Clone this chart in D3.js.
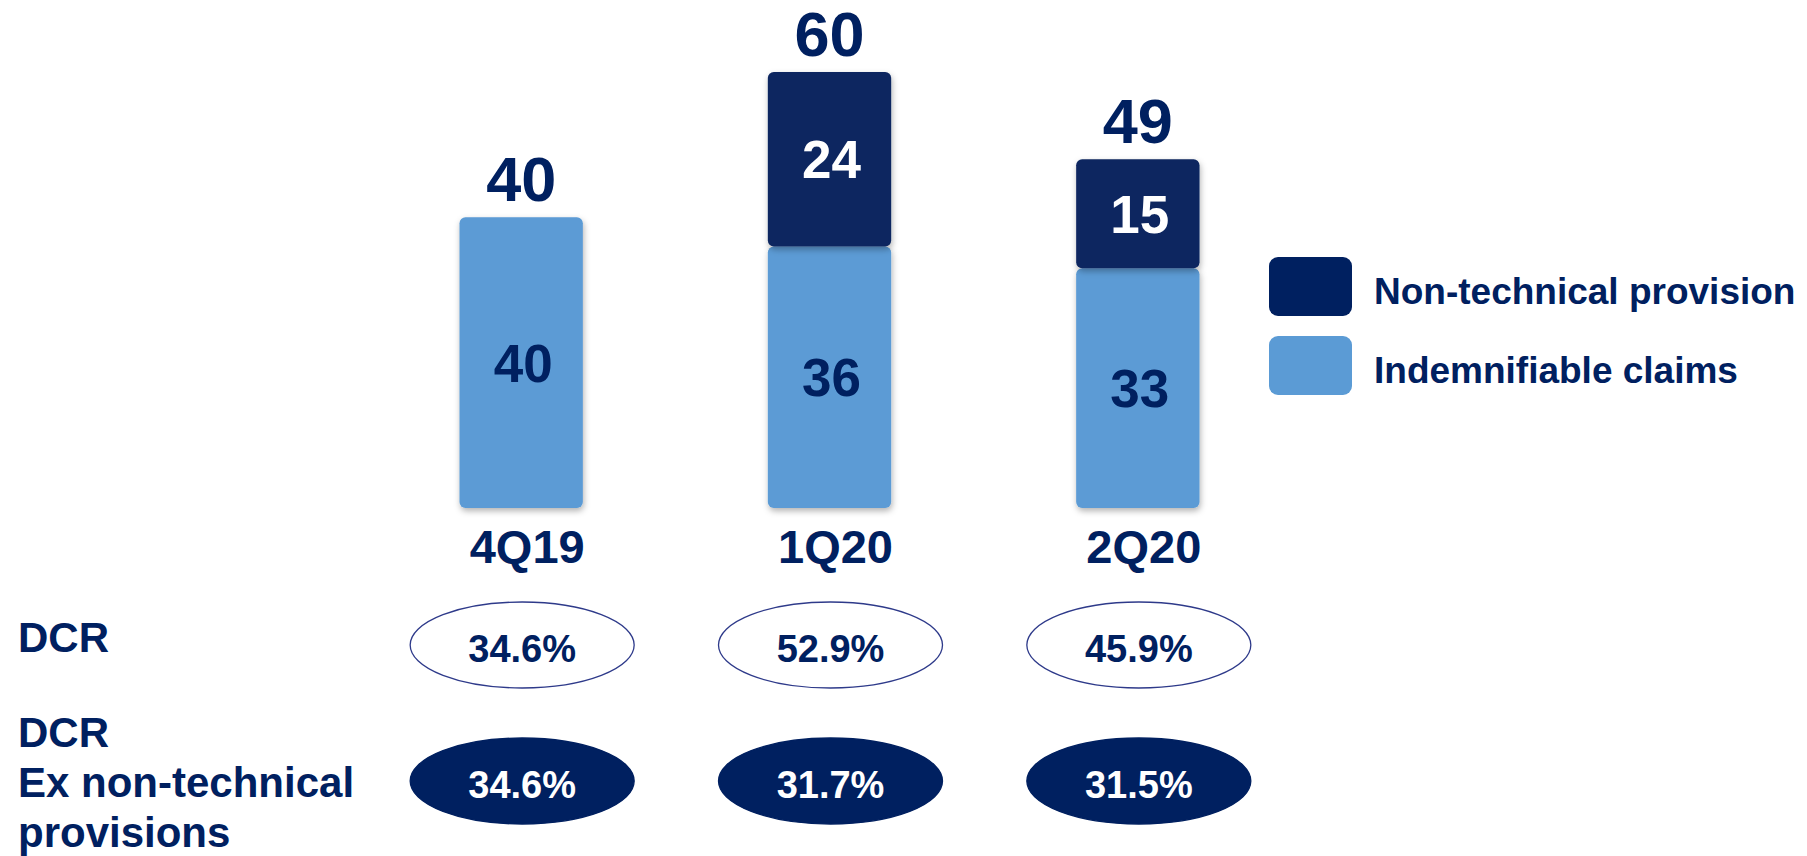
<!DOCTYPE html>
<html>
<head>
<meta charset="utf-8">
<script src="https://cdn.jsdelivr.net/npm/d3@7"></script>
<style>
  html, body { margin: 0; padding: 0; background: #fff; }
  svg { display: block; font-family: "Liberation Sans", Arial, sans-serif; font-weight: bold; }
</style>
</head>
<body>
<div id="chart"></div>
<script>
// chart values
var quarters = ["4Q19", "1Q20", "2Q20"];
var indemnifiable = [40, 36, 33];
var nonTechnical = [0, 24, 15];
var totals = [40, 60, 49];
var dcr = [34.6, 52.9, 45.9];
var dcrExNonTech = [34.6, 31.7, 31.5];
var legendLabels = ["Non-technical provision", "Indemnifiable claims"];
var rowLabels = [["DCR"], ["DCR", "Ex non-technical", "provisions"]];

var width = 1807, height = 856;
var navy = "#002060", barNavy = "#0a2660", lightBlue = "#5b9bd5";

var svg = d3.select("#chart").append("svg")
  .attr("width", width)
  .attr("height", height);

// soft shadow under the bars
var defs = svg.append("defs");
defs.append("filter")
  .attr("id", "shadow")
  .attr("x", "-20%").attr("y", "-20%")
  .attr("width", "140%").attr("height", "140%")
  .append("feDropShadow")
  .attr("dx", 1).attr("dy", 3)
  .attr("stdDeviation", 3)
  .attr("flood-color", "#000")
  .attr("flood-opacity", 0.3);

// scales
var x = d3.scaleBand()
  .domain(quarters)
  .range([367, 1292])
  .paddingInner(0.6)
  .paddingOuter(0.3);

var y = d3.scaleLinear()
  .domain([0, 60])
  .range([508, 72]);

var color = d3.scaleOrdinal()
  .domain(["indemnifiable", "nonTechnical"])
  .range([lightBlue, barNavy]);

// stack the two series
var rows = quarters.map(function (q, i) {
  return { quarter: q, indemnifiable: indemnifiable[i], nonTechnical: nonTechnical[i] };
});
var series = d3.stack().keys(["indemnifiable", "nonTechnical"])(rows);

var layers = svg.selectAll(".layer")
  .data(series)
  .enter().append("g")
  .attr("class", "layer");

layers.selectAll("rect")
  .data(function (s) {
    return s.filter(function (d) { return d[1] - d[0] > 0; })
      .map(function (d) { return { key: s.key, d: d }; });
  })
  .enter().append("rect")
  .attr("x", function (e) { return x(e.d.data.quarter); })
  .attr("y", function (e) { return y(e.d[1]); })
  .attr("width", x.bandwidth())
  .attr("height", function (e) { return y(e.d[0]) - y(e.d[1]); })
  .attr("rx", 6)
  .attr("fill", function (e) { return color(e.key); })
  .attr("filter", "url(#shadow)");

// segment values
layers.selectAll("text")
  .data(function (s) {
    return s.filter(function (d) { return d[1] - d[0] > 0; })
      .map(function (d) { return { key: s.key, d: d }; });
  })
  .enter().append("text")
  .attr("x", function (e) { return x(e.d.data.quarter) + x.bandwidth() / 2 + 2; })
  .attr("y", function (e) { return (y(e.d[0]) + y(e.d[1])) / 2; })
  .attr("dy", "0.36em")
  .attr("text-anchor", "middle")
  .attr("font-size", 53)
  .attr("fill", function (e) { return e.key === "nonTechnical" ? "#fff" : navy; })
  .text(function (e) { return e.d.data[e.key]; });

// totals above bars
var stackTop = quarters.map(function (q, i) { return indemnifiable[i] + nonTechnical[i]; });
svg.selectAll(".total")
  .data(quarters)
  .enter().append("text")
  .attr("class", "total")
  .attr("x", function (q) { return x(q) + x.bandwidth() / 2; })
  .attr("y", function (q, i) { return y(stackTop[i]) - 16; })
  .attr("text-anchor", "middle")
  .attr("font-size", 63)
  .attr("fill", navy)
  .text(function (q, i) { return totals[i]; });

// category axis (labels only)
var xAxis = svg.append("g")
  .attr("transform", "translate(6,563)")
  .call(d3.axisBottom(x).tickSize(0).tickPadding(0));
xAxis.select(".domain").remove();
xAxis.selectAll("text")
  .attr("dy", 0)
  .attr("font-size", 47)
  .attr("font-family", "Liberation Sans, Arial, sans-serif")
  .attr("font-weight", "bold")
  .attr("fill", navy);

// ratio ellipses
var fmt = function (v) { return d3.format(".1f")(v) + "%"; };
var ratioRows = [
  { values: dcr, cy: 645, filled: false },
  { values: dcrExNonTech, cy: 781, filled: true }
];

ratioRows.forEach(function (r) {
  var g = svg.append("g");
  var cells = g.selectAll("g")
    .data(r.values)
    .enter().append("g")
    .attr("transform", function (v, i) {
      return "translate(" + (x(quarters[i]) + x.bandwidth() / 2 + 1) + "," + r.cy + ")";
    });
  cells.append("ellipse")
    .attr("rx", 112)
    .attr("ry", 43)
    .attr("fill", r.filled ? navy : "#fff")
    .attr("stroke", r.filled ? navy : "#2e3a8a")
    .attr("stroke-width", 1.3);
  cells.append("text")
    .attr("text-anchor", "middle")
    .attr("y", 17)
    .attr("font-size", 38)
    .attr("fill", r.filled ? "#fff" : navy)
    .text(fmt);
});

// row labels on the left
var rowY = [652, 747];
rowLabels.forEach(function (lines, i) {
  var t = svg.append("text")
    .attr("x", 18)
    .attr("y", rowY[i])
    .attr("font-size", 42)
    .attr("fill", navy);
  t.selectAll("tspan")
    .data(lines)
    .enter().append("tspan")
    .attr("x", 18)
    .attr("dy", function (d, j) { return j === 0 ? 0 : 50; })
    .text(function (d) { return d; });
});

// legend
var legend = svg.append("g")
  .attr("transform", "translate(1269,257)");
var legendItems = legend.selectAll("g")
  .data(legendLabels)
  .enter().append("g")
  .attr("transform", function (d, i) { return "translate(0," + (i * 79) + ")"; });
legendItems.append("rect")
  .attr("width", 83)
  .attr("height", 59)
  .attr("rx", 9)
  .attr("fill", function (d, i) { return i === 0 ? navy : lightBlue; });
legendItems.append("text")
  .attr("x", 105)
  .attr("y", 47)
  .attr("font-size", 37)
  .attr("fill", navy)
  .text(function (d) { return d; });
</script>
</body>
</html>
